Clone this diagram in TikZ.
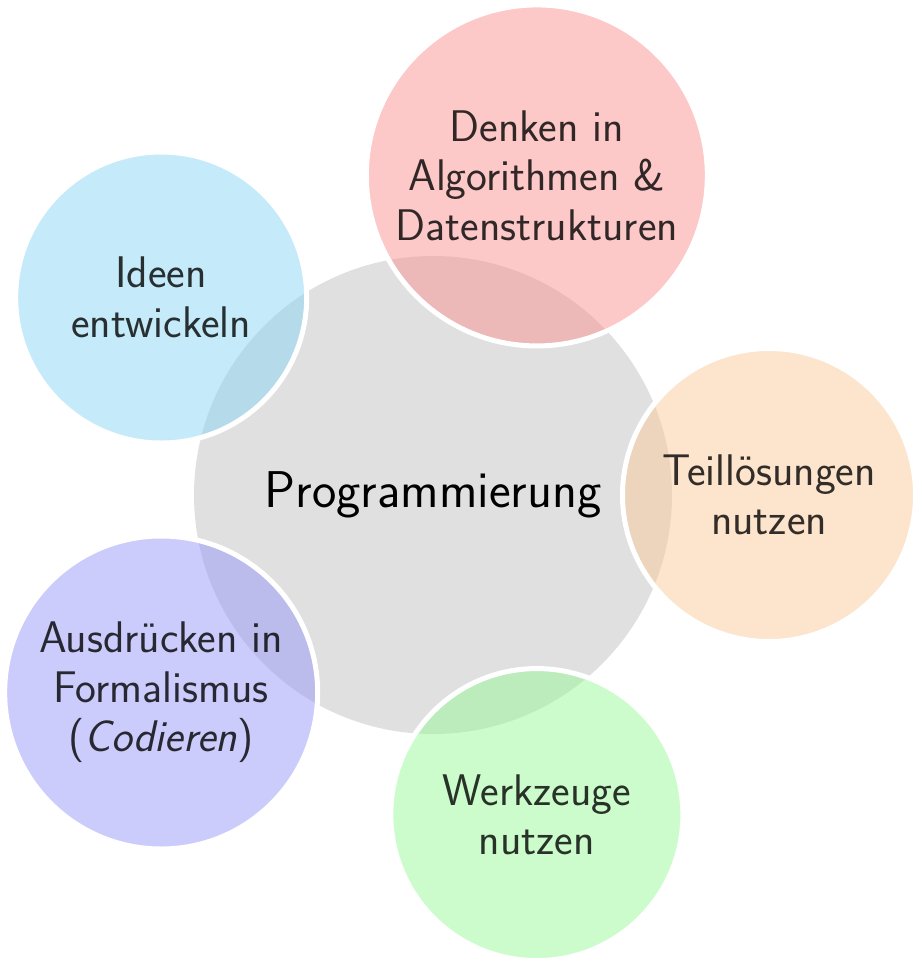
\documentclass[tikz,border=0pt]{standalone}
\usepackage{tikz}
\usetikzlibrary{calc}

\definecolor{hubgray}{RGB}{224,224,224}
\definecolor{bubred}{RGB}{249,145,145}
\definecolor{bubcyan}{RGB}{139,213,245}
\definecolor{buborange}{RGB}{251,201,153}
\definecolor{bubblue}{RGB}{153,153,249}
\definecolor{bubgreen}{RGB}{153,249,153}

\tikzset{
  hub/.style={circle, fill=hubgray, minimum size=478pt, inner sep=0pt,
    font=\sffamily\fontsize{51.7}{60}\selectfont, text=black},
  bubble/.style={circle, fill=#1, fill opacity=0.5, draw=white, line width=5pt,
    inner sep=0pt, align=center, text=black, text opacity=0.8,
    font=\sffamily\fontsize{44.3}{49.5}\selectfont},
}

\begin{document}
\begin{tikzpicture}[x=1pt,y=1pt]
  \useasboundingbox (0,0) rectangle (921,-966);

  % central topic
  \node[hub] (hub) at (433,-495) {Programmierung};

  % surrounding bubbles on a regular pentagon
  \node[bubble=bubred, minimum size=341pt] (algo)
    at ($(hub.center)+(72:336pt)$) {Denken in\\Algorithmen \&\\Datenstrukturen};
  \node[bubble=bubcyan, minimum size=291pt] (ideen)
    at ($(hub.center)+(144:336pt)$) {Ideen\\entwickeln};
  \node[bubble=bubblue, minimum size=313pt] (code)
    at ($(hub.center)+(216:336pt)$) {Ausdrücken in\\Formalismus\\(\textit{Codieren})};
  \node[bubble=bubgreen, minimum size=292pt] (tools)
    at ($(hub.center)+(288:336pt)$) {Werkzeuge\\nutzen};
  \node[bubble=buborange, minimum size=293pt] (teil)
    at ($(hub.center)+(0:336pt)$) {Teillösungen\\nutzen};
\end{tikzpicture}
\end{document}
